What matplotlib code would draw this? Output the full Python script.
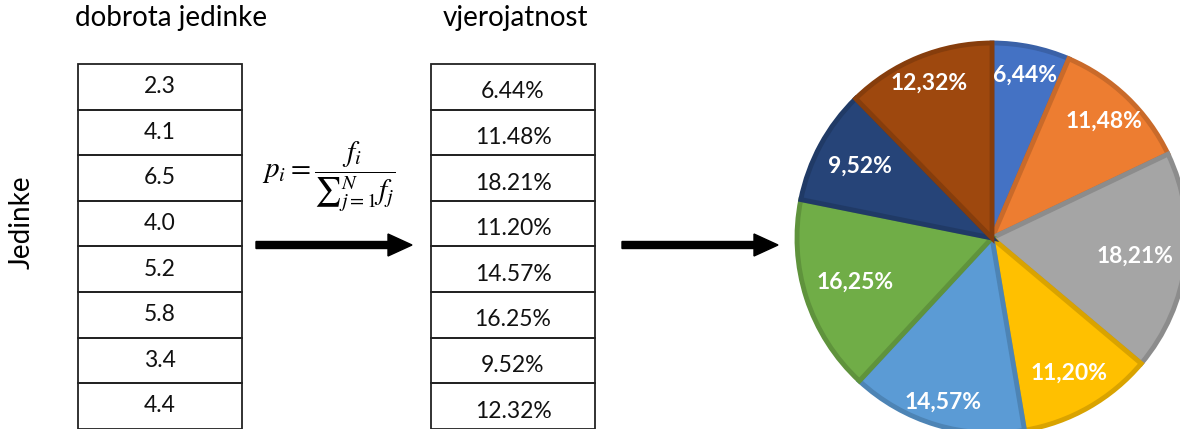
import matplotlib
matplotlib.use("Agg")
import numpy as np
import matplotlib.pyplot as plt
import matplotlib.colors as mcolors
from matplotlib.patches import Rectangle, FancyArrow

plt.rcParams['font.family'] = ['Lato', 'DejaVu Sans']
plt.rcParams['mathtext.fontset'] = 'stix'

# data
fitness = [2.3, 4.1, 6.5, 4.0, 5.2, 5.8, 3.4, 4.4]
probs = [6.44, 11.48, 18.21, 11.20, 14.57, 16.25, 9.52, 12.32]
prob_labels = ['6.44%', '11.48%', '18.21%', '11.20%', '14.57%', '16.25%', '9.52%', '12.32%']
pie_labels = ['6,44%', '11,48%', '18,21%', '11,20%', '14,57%', '16,25%', '9,52%', '12,32%']
pie_colors = ['#4472C4', '#ED7D31', '#A5A5A5', '#FFC000',
              '#5B9BD5', '#70AD47', '#264478', '#9E480E']
# label distance from centre (fraction of radius), as placed in the picture
label_dist = [0.85, 0.83, 0.74, 0.80, 0.88, 0.74, 0.77, 0.86]

W, H = 1180, 429
fig = plt.figure(figsize=(W / 100, H / 100), dpi=100)
ax = fig.add_axes([0, 0, 1, 1])
ax.set_xlim(0, W)
ax.set_ylim(H, 0)
ax.axis('off')

# tables
row_h = 45.6
top = 64

def draw_table(x0, width, labels, dy):
    for i, lab in enumerate(labels):
        y = top + i * row_h
        ax.add_patch(Rectangle((x0, y), width, row_h, fill=False, lw=1.3, ec='#222222'))
        ax.text(x0 + width / 2, y + row_h / 2 + dy, lab, ha='center', va='center',
                fontsize=16.5, color='#111111')

draw_table(78, 164, [f'{v:.1f}' for v in fitness], 0)
draw_table(431, 164, prob_labels, 5)

ax.text(171, 18, 'dobrota jedinke', ha='center', va='center', fontsize=20)
ax.text(515, 18, 'vjerojatnost', ha='center', va='center', fontsize=20)
ax.text(22, 222, 'Jedinke', ha='center', va='center', fontsize=20, rotation=90)

ax.text(329, 177, r'$p_i = \dfrac{f_i}{{\sum}_{j=1}^{N} f_j}$', ha='center', va='center',
        fontsize=21)

# arrows
for x0 in (256, 622):
    ax.add_patch(FancyArrow(x0, 245, 132, 0, width=7, head_width=22, head_length=24,
                            length_includes_head=False, color='black'))

# pie
cx, cy, r = 992, 238, 195
pax = fig.add_axes([(cx - r) / W, (H - cy - r) / H, 2 * r / W, 2 * r / H])
edge = [tuple(c * 0.85 for c in mcolors.to_rgb(col)) for col in pie_colors]
wedges, _ = pax.pie(probs, colors=pie_colors, startangle=90, counterclock=False,
                    wedgeprops=dict(linewidth=3.5))
for w, ec in zip(wedges, edge):
    w.set_edgecolor(ec)
    w.set_joinstyle('miter')
for w, lab, d in zip(wedges, pie_labels, label_dist):
    ang = np.deg2rad((w.theta1 + w.theta2) / 2)
    pax.text(d * np.cos(ang), d * np.sin(ang), lab, ha='center', va='center',
             color='white', fontsize=16.5, fontweight='bold')
pax.set_xlim(-1, 1)
pax.set_ylim(-1, 1)
pax.set_aspect('equal')

fig.savefig('out.png', dpi=100)
